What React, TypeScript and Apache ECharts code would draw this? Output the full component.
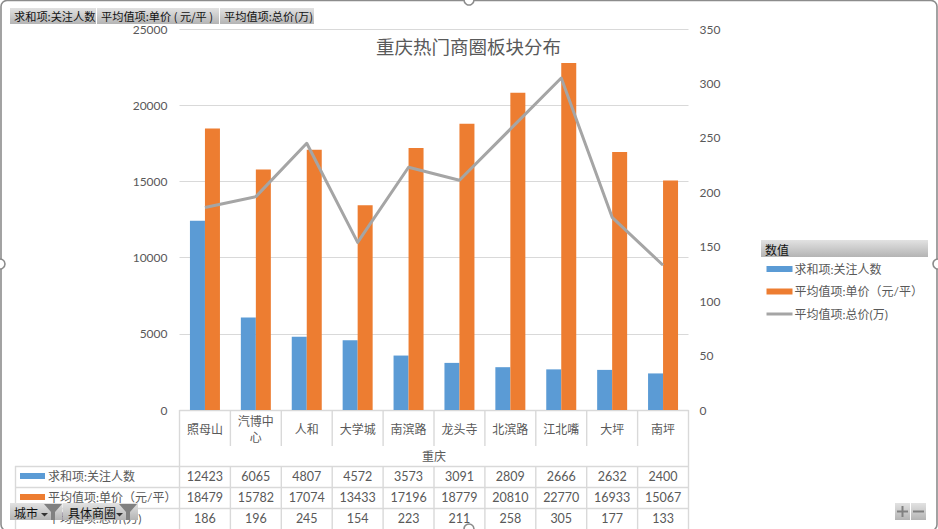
import React, { useEffect, useRef } from "react";
import * as echarts from "echarts";

const categories = ["照母山", "汽博中心", "人和", "大学城", "南滨路", "龙头寺", "北滨路", "江北嘴", "大坪", "南坪"];
const followers = [12423, 6065, 4807, 4572, 3573, 3091, 2809, 2666, 2632, 2400];
const unitPrice = [18479, 15782, 17074, 13433, 17196, 18779, 20810, 22770, 16933, 15067];
const totalPrice = [186, 196, 245, 154, 223, 211, 258, 305, 177, 133];
const seriesNames = ["求和项:关注人数", "平均值项:单价（元/平）", "平均值项:总价(万)"];
const title = "重庆热门商圈板块分布";
const groupLabel = "重庆";
const fieldButtons = ["求和项:关注人数", "平均值项:单价 ( 元/平 )", "平均值项:总价(万)"];
const filterButtons = ["城市", "具体商圈"];
const legendTitle = "数值";

const FONT = "Lato, 'Noto Sans CJK SC', sans-serif";
const TEXT = "#595959";
const LINE = "#d9d9d9";
const BLUE = "#5b9bd5";
const ORANGE = "#ed7d31";
const GREY = "#a5a5a5";

const G = { left: 179.5, right: 688.5, top: 29, bottom: 410 };
const CW = (G.right - G.left) / categories.length;
const btnFill = {
  type: "linear", x: 0, y: 0, x2: 0, y2: 1,
  colorStops: [{ offset: 0, color: "#e2e2e2" }, { offset: 1, color: "#b4b4b4" }],
};

function hline(x1: number, x2: number, y: number) {
  return { type: "line", z: 1, silent: true, shape: { x1, y1: y + 0.5, x2, y2: y + 0.5 }, style: { stroke: LINE, lineWidth: 1.4 } };
}
function vline(x: number, y1: number, y2: number) {
  return { type: "line", z: 1, silent: true, shape: { x1: x, y1, x2: x, y2 }, style: { stroke: LINE, lineWidth: 1.4 } };
}
function label(text: string, x: number, y: number, o: any = {}) {
  return {
    type: "text", z: 3, silent: true, x, y,
    style: { text, fill: TEXT, font: `${o.size || 12}px ${FONT}`, align: o.align || "center", verticalAlign: "middle" },
  };
}
function funnel(x: number, y: number) {
  return [
    { type: "polygon", z: 12, silent: true, shape: { points: [[x, y], [x + 18, y], [x + 11, y + 8], [x + 11, y + 16], [x + 7, y + 16], [x + 7, y + 8]] }, style: { fill: "#808080" } },
  ];
}
function caret(x: number, y: number) {
  return { type: "polygon", z: 12, silent: true, shape: { points: [[x, y], [x + 7, y], [x + 3.5, y + 3.5]] }, style: { fill: "#333" } };
}
function button(x: number, y: number, w: number, h: number) {
  return { type: "rect", z: 10, silent: true, shape: { x, y, width: w, height: h }, style: { fill: btnFill } };
}
function btnText(text: string, x: number, y: number, size = 11.2) {
  return { type: "text", z: 12, silent: true, x, y, style: { text, fill: "#111", font: `${size}px 'Noto Sans CJK SC', sans-serif`, align: "left", verticalAlign: "middle" } };
}
function handle(x: number, y: number) {
  return { type: "circle", z: 20, silent: true, shape: { cx: x, cy: y, r: 5 }, style: { fill: "#fff", stroke: "#8c8c8c", lineWidth: 1.6 } };
}

function tableGraphics() {
  const out: any[] = [];
  out.push(hline(G.left, G.right, 410));
  [466, 487, 508].forEach((y) => out.push(hline(15, G.right, y)));
  out.push(vline(15.5, 466, 529));
  out.push(vline(G.left, 410, 529));
  out.push(vline(G.right, 410, 529));
  for (let i = 1; i < categories.length; i++) {
    const x = G.left + i * CW;
    out.push(vline(x, 410, 446));
    out.push(vline(x, 466, 529));
  }
  out.push(label(groupLabel, (G.left + G.right) / 2, 456));
  const rows = [followers, unitPrice, totalPrice];
  const rowY = [476.5, 497.5, 518.5];
  rows.forEach((r, ri) => {
    r.forEach((v, i) => out.push(label(String(v), G.left + (i + 0.5) * CW, rowY[ri], { size: 12.5 })));
    out.push(label(seriesNames[ri], 48, rowY[ri], { align: "left" }));
  });
  out.push({ type: "rect", z: 2, silent: true, shape: { x: 20, y: 473, width: 25, height: 6 }, style: { fill: BLUE } });
  out.push({ type: "rect", z: 2, silent: true, shape: { x: 20, y: 494, width: 25, height: 6 }, style: { fill: ORANGE } });
  out.push({ type: "line", z: 2, silent: true, shape: { x1: 20, y1: 518, x2: 45, y2: 518 }, style: { stroke: GREY, lineWidth: 2.5 } });
  return out;
}

function chromeGraphics() {
  const out: any[] = [];
  out.push({ type: "rect", z: 0, silent: true, shape: { x: 1, y: 0.5, width: 936, height: 530, r: 6 }, style: { fill: "none", stroke: "#8c8c8c", lineWidth: 1.6 } });
  [[0, 264], [938, 264], [469, 0], [469, 529]].forEach(([x, y]) => out.push(handle(x, y)));

  const top = [[10, 86], [97, 122], [220, 94]];
  const topText = [14, 101, 224];
  fieldButtons.forEach((t, i) => {
    out.push(button(top[i][0], 8, top[i][1], 16));
    out.push(btnText(t, topText[i], 16));
  });

  out.push(button(10, 503, 52.5, 17));
  out.push(button(63, 503, 75, 17));
  out.push(btnText(filterButtons[0], 14, 512, 12));
  out.push(btnText(filterButtons[1], 68, 512, 12));
  out.push(caret(41, 513), caret(116, 513));
  out.push(...funnel(44, 504), ...funnel(119, 504));

  out.push(button(895, 503, 15, 17), button(911, 503, 15, 17));
  out.push({ type: "rect", z: 12, silent: true, shape: { x: 897, y: 510.5, width: 11, height: 2 }, style: { fill: "#808080" } });
  out.push({ type: "rect", z: 12, silent: true, shape: { x: 901.5, y: 506, width: 2, height: 11 }, style: { fill: "#808080" } });
  out.push({ type: "rect", z: 12, silent: true, shape: { x: 913, y: 510.5, width: 11, height: 2 }, style: { fill: "#808080" } });

  out.push(button(761, 240, 167, 17));
  out.push(btnText(legendTitle, 765, 249, 12));
  return out;
}

export default function App() {
  const ref = useRef<HTMLDivElement>(null);
  useEffect(() => {
    const chart = echarts.init(ref.current!, null, { renderer: "svg" });
    chart.setOption({
      animation: false,
      backgroundColor: "#fff",
      textStyle: { fontFamily: FONT },
      title: {
        text: title, left: 371, top: 32,
        textStyle: { fontSize: 18.5, fontWeight: "normal", color: TEXT, fontFamily: "'Noto Sans CJK SC', sans-serif" },
      },
      grid: { left: G.left, top: G.top, width: G.right - G.left, height: G.bottom - G.top, containLabel: false },
      legend: {
        orient: "vertical", left: 765, top: 263, padding: 0, itemWidth: 26, itemHeight: 6, itemGap: 10.5,
        data: [
          { name: seriesNames[0], icon: "rect" },
          { name: seriesNames[1], icon: "rect" },
          { name: seriesNames[2], itemStyle: { opacity: 0 }, lineStyle: { color: GREY, width: 3 } },
        ],
        selectedMode: false,
        textStyle: { fontSize: 12, color: TEXT, padding: [0, 0, 0, -3] },
      },
      xAxis: {
        type: "category", data: categories,
        axisLine: { show: false }, axisTick: { show: false },
        axisLabel: {
          interval: 0, fontSize: 12, color: TEXT, margin: 19, verticalAlign: "middle", lineHeight: 16,
          formatter: (v: string) => (v.length > 3 ? v.slice(0, 3) + "\n" + v.slice(3) : v),
        },
      },
      yAxis: [
        {
          type: "value", min: 0, max: 25000, interval: 5000,
          axisLine: { show: false }, axisTick: { show: false },
          splitLine: { lineStyle: { color: LINE, width: 1 } },
          axisLabel: { fontSize: 12, color: TEXT, margin: 12, padding: [0, 0, 3, 0], formatter: (v: number) => String(v) },
        },
        {
          type: "value", min: 0, max: 350, interval: 50,
          axisLine: { show: false }, axisTick: { show: false }, splitLine: { show: false },
          axisLabel: { fontSize: 12, color: TEXT, margin: 11, padding: [0, 0, 3, 0] },
        },
      ],
      series: [
        { name: seriesNames[0], type: "bar", data: followers, barWidth: 15, barGap: 0, itemStyle: { color: BLUE } },
        { name: seriesNames[1], type: "bar", data: unitPrice, barWidth: 15, barGap: 0, itemStyle: { color: ORANGE } },
        {
          name: seriesNames[2], type: "line", yAxisIndex: 1, data: totalPrice, showSymbol: false, symbol: "none", z: 5,
          lineStyle: { color: GREY, width: 3, join: "round" }, itemStyle: { color: GREY },
        },
      ],
      graphic: { elements: [...tableGraphics(), ...chromeGraphics()] },
    });
    return () => chart.dispose();
  }, []);
  return <div ref={ref} style={{ position: "fixed", left: 0, top: 0, width: 938, height: 529 }} />;
}
